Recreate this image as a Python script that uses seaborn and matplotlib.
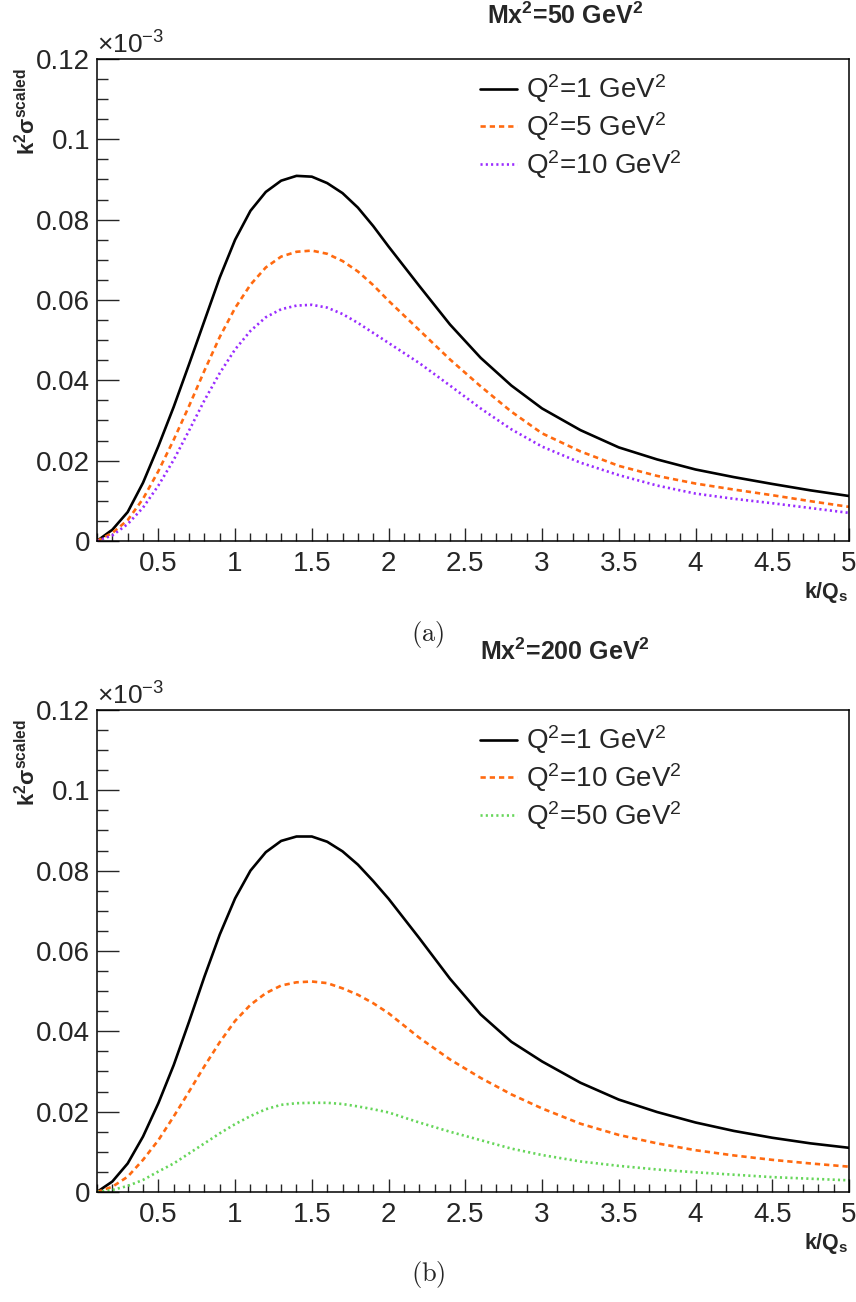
import matplotlib
matplotlib.use("Agg")
import matplotlib.pyplot as plt
import seaborn as sns
import numpy as np
from matplotlib.ticker import MultipleLocator, FormatStrFormatter

# ---------------- data (values in units of 1e-3) ----------------
k_over_qs = [0.1, 0.2, 0.3, 0.4, 0.5, 0.6, 0.7, 0.8, 0.9, 1.0,
             1.1, 1.2, 1.3, 1.4, 1.5, 1.6, 1.7, 1.8, 1.9, 2.0,
             2.2, 2.4, 2.6, 2.8, 3.0, 3.25, 3.5, 3.75, 4.0, 4.25, 4.5, 4.75, 5.0]

# panel (a): Mx^2 = 50 GeV^2
a_q1 = [0, 0.0028, 0.0072, 0.0145, 0.0236, 0.0334, 0.0440, 0.0548, 0.0656, 0.0750,
        0.0822, 0.0869, 0.0897, 0.0909, 0.0907, 0.0891, 0.0866, 0.0830, 0.0784, 0.0733,
        0.0635, 0.0539, 0.0456, 0.0387, 0.0330, 0.0276, 0.0233, 0.0203, 0.0178, 0.0159, 0.0142, 0.0126, 0.0112]
a_q5 = [0, 0.0020, 0.0052, 0.0105, 0.0174, 0.0252, 0.0336, 0.0424, 0.0508, 0.0580,
        0.0638, 0.0681, 0.0708, 0.0720, 0.0723, 0.0715, 0.0697, 0.0671, 0.0637, 0.0598,
        0.0525, 0.0452, 0.0385, 0.0322, 0.0268, 0.0223, 0.0187, 0.0162, 0.0143, 0.0128, 0.0114, 0.0099, 0.0085]
a_q10 = [0, 0.0014, 0.0042, 0.0083, 0.0138, 0.0202, 0.0275, 0.0350, 0.0418, 0.0477,
         0.0523, 0.0557, 0.0577, 0.0586, 0.0588, 0.0581, 0.0565, 0.0543, 0.0518, 0.0493,
         0.0443, 0.0387, 0.0330, 0.0278, 0.0235, 0.0195, 0.0164, 0.0138, 0.0118, 0.0105, 0.0094, 0.0082, 0.0070]

# panel (b): Mx^2 = 200 GeV^2
b_q1 = [0, 0.0026, 0.0071, 0.0138, 0.0221, 0.0316, 0.0424, 0.0536, 0.0641, 0.0731,
        0.0800, 0.0846, 0.0874, 0.0885, 0.0885, 0.0872, 0.0848, 0.0815, 0.0774, 0.0730,
        0.0632, 0.0531, 0.0442, 0.0374, 0.0325, 0.0272, 0.0230, 0.0199, 0.0173, 0.0152, 0.0135, 0.0121, 0.0110]
b_q10 = [0, 0.0013, 0.0038, 0.0080, 0.0129, 0.0188, 0.0250, 0.0313, 0.0373, 0.0426,
         0.0466, 0.0495, 0.0514, 0.0522, 0.0524, 0.0520, 0.0507, 0.0491, 0.0470, 0.0445,
         0.0384, 0.0330, 0.0284, 0.0243, 0.0208, 0.0170, 0.0142, 0.0121, 0.0104, 0.0091, 0.0080, 0.0071, 0.0063]
b_q50 = [0, 0.0005, 0.0015, 0.0030, 0.0051, 0.0071, 0.0096, 0.0121, 0.0146, 0.0169,
         0.0189, 0.0206, 0.0217, 0.0221, 0.0222, 0.0222, 0.0219, 0.0213, 0.0206, 0.0198,
         0.0173, 0.0150, 0.0129, 0.0108, 0.0092, 0.0076, 0.0065, 0.0056, 0.0049, 0.0043, 0.0037, 0.0033, 0.0029]

titles = [r"Mx$^{\mathbf{2}}$=50 GeV$^{\mathbf{2}}$", r"Mx$^{\mathbf{2}}$=200 GeV$^{\mathbf{2}}$"]
captions = [r"$\mathrm{(a)}$", r"$\mathrm{(b)}$"]
labels_a = [r"Q$^{2}$=1 GeV$^{2}$", r"Q$^{2}$=5 GeV$^{2}$", r"Q$^{2}$=10 GeV$^{2}$"]
labels_b = [r"Q$^{2}$=1 GeV$^{2}$", r"Q$^{2}$=10 GeV$^{2}$", r"Q$^{2}$=50 GeV$^{2}$"]

# ---------------- style ----------------
sns.set_style("ticks")
plt.rcParams['font.family'] = ['Liberation Sans', 'DejaVu Sans']
plt.rcParams['mathtext.fontset'] = 'custom'
plt.rcParams['mathtext.rm'] = 'Liberation Sans'
plt.rcParams['mathtext.it'] = 'Liberation Sans:italic'
plt.rcParams['mathtext.bf'] = 'Liberation Sans:bold'
plt.rcParams['mathtext.default'] = 'regular'

BLACK = '#000000'
ORANGE = '#ff6a10'
PURPLE = '#9a2cff'
GREEN = '#66d65a'

fig = plt.figure(figsize=(8.56, 13.02), dpi=100)
ax1 = fig.add_axes([0.1133, 0.5845, 0.8785, 0.3702])
ax2 = fig.add_axes([0.1133, 0.0845, 0.8785, 0.3702])

panels = [
    (ax1, [a_q1, a_q5, a_q10], labels_a, [BLACK, ORANGE, PURPLE]),
    (ax2, [b_q1, b_q10, b_q50], labels_b, [BLACK, ORANGE, GREEN]),
]
styles = [None, (2.0, 1.5), (0.8, 1.2)]

for i, (ax, series, labels, colors) in enumerate(panels):
    for s, lab, col, dash in zip(series, labels, colors, styles):
        sns.lineplot(x=k_over_qs, y=s, ax=ax, color=col, linewidth=1.9,
                     label=lab, sort=False, estimator=None)
        line = ax.lines[-1]
        line.set_solid_joinstyle('round')
        if dash is not None:
            line.set_dashes(dash)
    ax.set_xlim(0.1, 5.0)
    ax.set_ylim(0, 0.12)
    ax.xaxis.set_major_locator(MultipleLocator(0.5))
    ax.xaxis.set_minor_locator(MultipleLocator(0.1))
    ax.yaxis.set_major_locator(MultipleLocator(0.02))
    ax.yaxis.set_minor_locator(MultipleLocator(0.005))
    ax.xaxis.set_major_formatter(FormatStrFormatter('%g'))
    ax.yaxis.set_major_formatter(FormatStrFormatter('%g'))
    ax.tick_params(axis='y', which='major', direction='in', length=16, width=1.0,
                   labelsize=20, pad=5, right=False)
    ax.tick_params(axis='y', which='minor', direction='in', length=8, width=1.0, right=False)
    ax.tick_params(axis='x', which='major', direction='in', length=9.5, width=1.0,
                   labelsize=20, pad=7, top=False)
    ax.tick_params(axis='x', which='minor', direction='in', length=5.5, width=1.0, top=False)
    for sp in ax.spines.values():
        sp.set_visible(True)
        sp.set_linewidth(1.1)
        sp.set_color('black')
    ax.set_xlabel('')
    ax.set_ylabel('')
    ax.text(1.0, -0.106, r"$\mathbf{k/Q_{s}}$", transform=ax.transAxes,
            ha='right', va='center', fontsize=15.5)
    ax.text(-0.092, 0.981, r"$\mathbf{k^{2}\sigma^{scaled}}$", transform=ax.transAxes,
            ha='center', va='top', rotation=90, fontsize=16)
    ax.text(0.0, 1.0, "\u00d710$^{-3}$", transform=ax.transAxes,
            ha='left', va='bottom', fontsize=19)
    ax.legend(loc='upper left', bbox_to_anchor=(0.509, 0.972), frameon=False,
              fontsize=20, handlelength=1.35, handletextpad=0.3,
              labelspacing=0.18, borderpad=0, borderaxespad=0)

# titles
fig.text(565 / 856, 1 - 16 / 1302, titles[0], ha='center', va='center',
         fontsize=18, fontweight='bold')
fig.text(565 / 856, 1 - 652 / 1302, titles[1], ha='center', va='center',
         fontsize=18, fontweight='bold')
# captions (Computer Modern look)
fig.text(0.5, 1 - 634 / 1302, captions[0], ha='center', va='center',
         fontsize=19, math_fontfamily='cm')
fig.text(0.5, 1 - 1275 / 1302, captions[1], ha='center', va='center',
         fontsize=19, math_fontfamily='cm')

fig.savefig('out.png', dpi=100)
